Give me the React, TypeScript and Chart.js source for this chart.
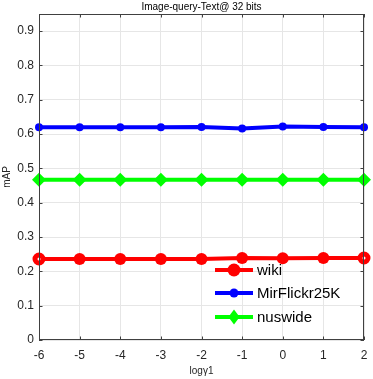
import React, { useEffect, useRef } from "react";
import { Chart, registerables } from "chart.js";

Chart.register(...registerables);

const xValues = [-6, -5, -4, -3, -2, -1, 0, 1, 2];
const wikiValues = [0.236, 0.236, 0.236, 0.236, 0.236, 0.239, 0.238, 0.239, 0.239];
const mirValues = [0.62, 0.62, 0.62, 0.62, 0.621, 0.616, 0.622, 0.621, 0.62];
const nusValues = [0.467, 0.467, 0.467, 0.467, 0.467, 0.467, 0.467, 0.467, 0.467];
const yTicks = [0, 0.1, 0.2, 0.3, 0.4, 0.5, 0.6, 0.7, 0.8, 0.9];
const seriesNames = ["wiki", "MirFlickr25K", "nuswide"];
const titleText = "Image-query-Text@ 32 bits";
const xLabel = "log\u03b31";
const yLabel = "mAP";

const FONT = "'Liberation Sans', Arial, Helvetica, sans-serif";
const TEXT = "#262626";

function drawMarker(ctx: CanvasRenderingContext2D, style: string, x: number, y: number, r: number, color: string) {
  ctx.save();
  ctx.fillStyle = color;
  ctx.beginPath();
  if (style === "rectRot") {
    ctx.moveTo(x, y - r);
    ctx.lineTo(x + r * 0.75, y);
    ctx.lineTo(x, y + r);
    ctx.lineTo(x - r * 0.75, y);
    ctx.closePath();
  } else {
    ctx.arc(x, y, r, 0, Math.PI * 2);
  }
  ctx.fill();
  ctx.restore();
}

const decorPlugin = {
  id: "decor",
  afterDatasetsDraw(chart: any) {
    const { ctx, chartArea: a } = chart;
    ctx.save();
    ctx.strokeStyle = "#404040";
    ctx.lineWidth = 1;
    ctx.strokeRect(a.left + 0.5, a.top + 0.5, a.right - a.left - 1, a.bottom - a.top - 1);
    const xs = chart.scales.x;
    const ys = chart.scales.y;
    const tl = 3.5;
    ctx.beginPath();
    xValues.forEach((v) => {
      const px = Math.round(xs.getPixelForValue(v)) + 0.5;
      ctx.moveTo(px, a.bottom);
      ctx.lineTo(px, a.bottom - tl);
      ctx.moveTo(px, a.top);
      ctx.lineTo(px, a.top + tl);
    });
    yTicks.forEach((v) => {
      const py = Math.round(ys.getPixelForValue(v)) + 0.5;
      ctx.moveTo(a.left, py);
      ctx.lineTo(a.left + tl, py);
      ctx.moveTo(a.right, py);
      ctx.lineTo(a.right - tl, py);
    });
    ctx.stroke();
    ctx.restore();
  },
  afterDraw(chart: any) {
    const { ctx, chartArea: a } = chart;
    ctx.save();
    ctx.fillStyle = "#000";
    ctx.textAlign = "center";
    ctx.textBaseline = "middle";
    ctx.font = `10px ${FONT}`;
    ctx.fillText(titleText, (a.left + a.right) / 2, 7);
    ctx.fillStyle = TEXT;
    ctx.fillText(xLabel, (a.left + a.right) / 2, 371);
    ctx.save();
    ctx.translate(7, (a.top + a.bottom) / 2);
    ctx.rotate(-Math.PI / 2);
    ctx.fillText(yLabel, 0, 0);
    ctx.restore();

    // legend
    const items = chart.data.datasets;
    const lx0 = 215;
    const lx1 = 253;
    const rows = [270, 293, 317];
    items.forEach((ds: any, i: number) => {
      const y = rows[i];
      ctx.strokeStyle = ds.borderColor;
      ctx.lineWidth = ds.borderWidth;
      ctx.beginPath();
      ctx.moveTo(lx0, y);
      ctx.lineTo(lx1, y);
      ctx.stroke();
      drawMarker(ctx, ds.pointStyle, (lx0 + lx1) / 2, y, ds.legendRadius, ds.borderColor);
      ctx.fillStyle = "#000";
      ctx.textAlign = "left";
      ctx.font = `15px ${FONT}`;
      ctx.fillText(ds.label, 257, y + 1);
    });
    ctx.restore();
  },
};

export default function App() {
  const ref = useRef<HTMLCanvasElement>(null);
  useEffect(() => {
    if (!ref.current) return;
    const mk = (vals: number[]) => vals.map((y, i) => ({ x: xValues[i], y }));
    const last = xValues.length - 1;
    const isEnd = (i: number) => i === 0 || i === last;
    const chart = new Chart(ref.current, {
      type: "line",
      data: {
        datasets: [
          {
            label: seriesNames[0],
            data: mk(wikiValues),
            borderColor: "#ff0000",
            backgroundColor: "#ff0000",
            borderWidth: 4,
            pointStyle: "circle",
            pointRadius: xValues.map((_, i) => (isEnd(i) ? 4 : 6)),
            pointBorderWidth: xValues.map((_, i) => (isEnd(i) ? 5 : 0)),
            pointBackgroundColor: xValues.map((_, i) => (isEnd(i) ? "#ffffff" : "#ff0000")),
            pointBorderColor: "#ff0000",
            legendRadius: 6.5,
            clip: false,
          },
          {
            label: seriesNames[1],
            data: mk(mirValues),
            borderColor: "#0000ff",
            backgroundColor: "#0000ff",
            borderWidth: 4,
            pointStyle: "circle",
            pointRadius: 4,
            pointBorderWidth: 0,
            legendRadius: 4.5,
            clip: false,
          },
          {
            label: seriesNames[2],
            data: mk(nusValues),
            borderColor: "#00ff00",
            backgroundColor: "#00ff00",
            borderWidth: 4,
            pointStyle: "rectRot",
            pointRadius: 7,
            pointBorderWidth: 0,
            legendRadius: 7.5,
            clip: false,
          },
        ] as any,
      },
      options: {
        animation: false,
        responsive: true,
        maintainAspectRatio: false,
        layout: { padding: { top: 14, left: 0, right: 7, bottom: 0 } },
        plugins: { legend: { display: false }, title: { display: false }, tooltip: { enabled: false } },
        elements: { line: { tension: 0 } },
        scales: {
          x: {
            type: "linear",
            min: -6,
            max: 2,
            afterBuildTicks: (s: any) => {
              s.ticks = xValues.map((v) => ({ value: v }));
            },
            afterFit: (s: any) => {
              s.height = 39;
              s.paddingLeft = 0;
              s.paddingRight = 0;
            },
            grid: { color: "#e6e6e6", drawTicks: false },
            border: { display: false },
            ticks: {
              padding: 8,
              color: TEXT,
              font: { family: FONT, size: 12 },
              maxRotation: 0,
              callback: (v: any) => String(v),
            },
          },
          y: {
            type: "linear",
            min: 0,
            max: 0.95,
            afterBuildTicks: (s: any) => {
              s.ticks = yTicks.map((v) => ({ value: v }));
            },
            afterFit: (s: any) => {
              s.width = 39;
              s.paddingTop = 0;
              s.paddingBottom = 0;
            },
            grid: { color: "#e6e6e6", drawTicks: false },
            border: { display: false },
            ticks: {
              padding: 5,
              color: TEXT,
              font: { family: FONT, size: 12 },
              callback: (v: any) => String(Math.round(v * 10) / 10),
            },
          },
        },
      },
      plugins: [decorPlugin],
    });
    return () => chart.destroy();
  }, []);
  return (
    <div style={{ position: "absolute", left: 0, top: 0, width: 373, height: 379, background: "#fff" }}>
      <canvas ref={ref} />
    </div>
  );
}
